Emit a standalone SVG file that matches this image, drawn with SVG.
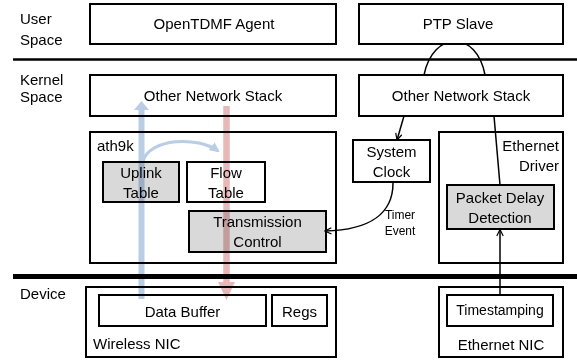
<svg xmlns="http://www.w3.org/2000/svg" width="577" height="362" viewBox="0 0 577 362">
<style>
text{font-family:"Liberation Sans",Arial,sans-serif;font-size:15px;fill:#000}
.m{text-anchor:middle}
.e{text-anchor:end}
.box{fill:#fff;stroke:#000;stroke-width:2}
.g{fill:#d9d9d9;stroke:#000;stroke-width:2}
.sm{font-size:12px}
.ln{fill:none;stroke:#000;stroke-width:1.5}
.thick{mix-blend-mode:multiply}
</style>
<defs>
<marker id="open" viewBox="0 0 10 10" refX="9" refY="5" markerWidth="8" markerHeight="8" orient="auto" markerUnits="userSpaceOnUse">
<path d="M1,1 L9,5 L1,9" fill="none" stroke="#000" stroke-width="1.5"/>
</marker>
<marker id="bluehead" viewBox="0 0 10 10" refX="8" refY="5" markerWidth="10" markerHeight="10" orient="auto" markerUnits="userSpaceOnUse">
<path d="M0,0 L10,5 L0,10 Z" fill="#b9cde5"/>
</marker>
</defs>
<rect width="577" height="362" fill="#fff"/>
<g id="layers">
<line x1="13" y1="59.5" x2="577" y2="59.5" stroke="#000" stroke-width="2.5"/>
<line x1="13" y1="276.5" x2="577" y2="276.5" stroke="#000" stroke-width="5"/>
<text x="20" y="24">User</text>
<text x="20" y="45">Space</text>
<text x="20" y="85">Kernel</text>
<text x="20" y="102">Space</text>
<text x="20" y="299">Device</text>
</g>
<g id="ptp-arc">
<path class="ln" d="M424,75 C433,30 477,30 485,75"/>
</g>
<g id="opentdmf"><rect class="box" x="90" y="4" width="246" height="40"/><text class="m" x="214" y="29">OpenTDMF Agent</text></g>
<g id="ptp-slave"><rect class="box" x="359" y="4" width="204" height="40"/><text class="m" x="458" y="29">PTP Slave</text></g>
<g id="ons-left"><rect class="box" x="90" y="75" width="246" height="41"/><text class="m" x="213" y="101">Other Network Stack</text></g>
<g id="ons-right"><rect class="box" x="359" y="75" width="204" height="41"/><text class="m" x="461" y="101">Other Network Stack</text></g>
<g id="ath9k"><rect class="box" x="90" y="132" width="246" height="131"/><text x="97" y="151">ath9k</text></g>
<g id="uplink-table"><rect class="g" x="103" y="162" width="76" height="40"/><text class="m" x="141" y="178">Uplink</text><text class="m" x="141" y="198">Table</text></g>
<g id="flow-table"><rect class="box" x="187" y="162" width="78" height="40"/><text class="m" x="226" y="178">Flow</text><text class="m" x="226" y="198">Table</text></g>
<g id="transmission-control"><rect class="g" x="189" y="211" width="137" height="41"/><text class="m" x="257.5" y="227">Transmission</text><text class="m" x="257.5" y="247">Control</text></g>
<g id="system-clock"><rect class="box" x="353" y="140" width="77" height="42"/><text class="m" x="391.5" y="157">System</text><text class="m" x="391.5" y="177">Clock</text></g>
<g id="ethernet-driver"><rect class="box" x="439" y="132" width="124" height="131"/><text class="e" x="559" y="151">Ethernet</text><text class="e" x="559" y="171">Driver</text></g>
<g id="packet-delay"><rect class="g" x="447" y="185" width="107" height="44"/><text class="m" x="500" y="203">Packet Delay</text><text class="m" x="500" y="223">Detection</text></g>
<g id="wireless-nic"><rect class="box" x="86" y="287" width="250" height="70"/><text x="93" y="349">Wireless NIC</text></g>
<g id="data-buffer"><rect class="box" x="99" y="295" width="167" height="31"/><text class="m" x="182.5" y="317">Data Buffer</text></g>
<g id="regs"><rect class="box" x="272" y="295" width="55" height="31"/><text class="m" x="299.5" y="317">Regs</text></g>
<g id="ethernet-nic"><rect class="box" x="439" y="287" width="124" height="70"/><text class="m" x="501" y="350">Ethernet NIC</text></g>
<g id="timestamping"><rect class="box" x="447" y="295" width="106" height="31"/><text class="m" x="500" y="315" style="font-size:14px">Timestamping</text></g>
<g id="connectors">
<g class="thick">
<line x1="141.5" y1="299" x2="141.5" y2="109" stroke="#b9cde5" stroke-width="6"/>
<polygon points="134,110 149,110 141.5,101" fill="#b9cde5"/>
<line x1="226.5" y1="106" x2="226.5" y2="283" stroke="#e6b9b8" stroke-width="6.5"/>
<polygon points="218,282 235,282 226.5,300" fill="#e6b9b8"/>
<path d="M143,161 C150,138 198,136 218,151" fill="none" stroke="#b9cde5" stroke-width="3" marker-end="url(#bluehead)"/>
</g>
<line class="ln" x1="404" y1="116" x2="397" y2="140" marker-end="url(#open)"/>
<line class="ln" x1="494" y1="116" x2="500" y2="185"/>
<line class="ln" x1="500" y1="295" x2="500" y2="229.5" marker-end="url(#open)"/>
<path class="ln" d="M393,183 C393,212 372,230 325,231" marker-end="url(#open)"/>
<text class="m sm" x="400" y="219">Timer</text>
<text class="m sm" x="400" y="235">Event</text>
</g>
</svg>
